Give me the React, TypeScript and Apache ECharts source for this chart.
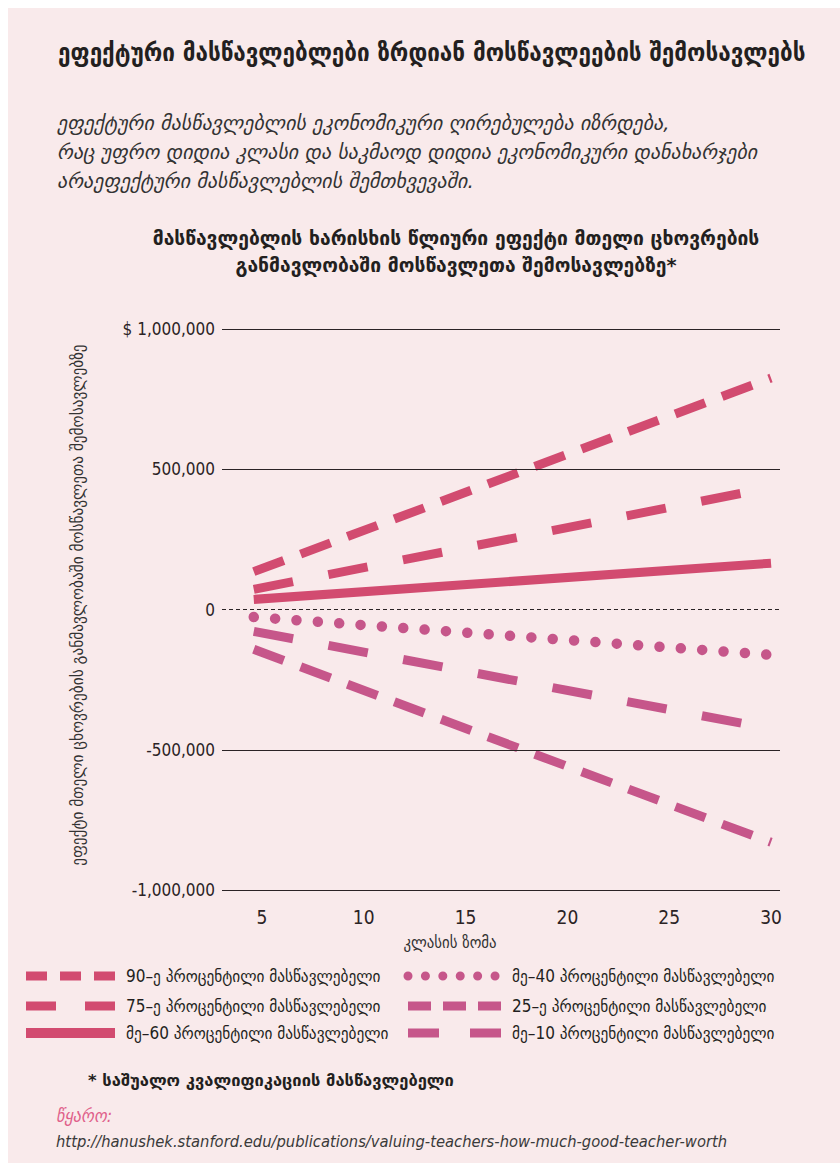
import React, { useEffect, useRef } from "react";
import * as echarts from "echarts";

// ---- data ----
const classSizes = [4.6, 30];
const p90 = [135000, 825000];
const p75 = [72000, 435000];
const p60 = [36000, 165000];
const p40 = [-27000, -162000];
const p25 = [-78000, -425000];
const p10 = [-142000, -830000];
const xTicks = [5, 10, 15, 20, 25, 30];
const yGridSolid = [1000000, 500000, -500000, -1000000];
const yGridDashed = [0];

const seriesNames = [
  "90–ე პროცენტილი მასწავლებელი",
  "75–ე პროცენტილი მასწავლებელი",
  "მე–60 პროცენტილი მასწავლებელი",
  "მე–40 პროცენტილი მასწავლებელი",
  "25–ე პროცენტილი მასწავლებელი",
  "მე–10 პროცენტილი მასწავლებელი",
];

const TITLE = "ეფექტური მასწავლებლები ზრდიან მოსწავლეების შემოსავლებს";
const SUBTITLE = [
  "ეფექტური მასწავლებლის ეკონომიკური ღირებულება იზრდება,",
  "რაც უფრო დიდია კლასი და საკმაოდ დიდია ეკონომიკური დანახარჯები",
  "არაეფექტური მასწავლებლის შემთხვევაში.",
];
const CHART_TITLE = [
  "მასწავლებლის ხარისხის წლიური ეფექტი მთელი ცხოვრების",
  "განმავლობაში მოსწავლეთა შემოსავლებზე*",
];
const Y_NAME = "ეფექტი მთელი ცხოვრების განმავლობაში მოსწავლეთა შემოსავლებზე";
const X_NAME = "კლასის ზომა";
const FOOTNOTE = "* საშუალო კვალიფიკაციის მასწავლებელი";
const SOURCE_LABEL = "წყარო:";
const SOURCE_URL = "http://hanushek.stanford.edu/publications/valuing-teachers-how-much-good-teacher-worth";

const RED = "#d24b70";
const MAG = "#c6568a";
const GEO = "'DejaVu Sans Condensed', 'DejaVu Sans', sans-serif";
const GEOW = "'DejaVu Sans', sans-serif";

const seriesValues = [p90, p75, p60, p40, p25, p10];
const seriesStyles = [
  { color: RED, width: 9, type: [32, 18] as any, cap: "butt" },
  { color: RED, width: 9, type: [40, 36] as any, cap: "butt" },
  { color: RED, width: 9, type: "solid" as any, cap: "butt" },
  { color: MAG, width: 10.5, type: [0.01, 21.4] as any, cap: "round" },
  { color: MAG, width: 9, type: [40, 36] as any, cap: "butt" },
  { color: MAG, width: 9, type: [32, 18] as any, cap: "butt" },
];
const legendDash = [
  { dash: [21, 13], width: 9, cap: "butt", color: RED },
  { dash: [30, 29], width: 9, cap: "butt", color: RED },
  { dash: null, width: 10, cap: "butt", color: RED },
  { dash: [0.01, 17.4], width: 9, cap: "round", color: MAG },
  { dash: [23, 12], width: 9, cap: "butt", color: MAG },
  { dash: [31, 31], width: 9, cap: "butt", color: MAG },
];

function fmtY(v: number) {
  const s = Math.abs(v).toString().replace(/\B(?=(\d{3})+(?!\d))/g, ",");
  const sign = v < 0 ? "-" : "";
  if (v === 1000000) return "$ " + s;
  return sign + s;
}

export default function App() {
  const ref = useRef<HTMLDivElement>(null);
  useEffect(() => {
    document.body.style.margin = "0";
    const chart = echarts.init(ref.current!, null, { renderer: "svg" });

    const graphic: any[] = [];
    graphic.push({
      type: "text",
      x: 50,
      y: 44,
      style: {
        text: TITLE,
        fontFamily: GEO,
        fontWeight: "bold",
        fontSize: 25,
        fill: "#231f20",
        textVerticalAlign: "middle",
      },
    });
    SUBTITLE.forEach((t, i) => {
      graphic.push({
        type: "text",
        x: 49,
        y: 115 + i * 29,
        style: {
          text: t,
          fontFamily: GEOW,
          fontStyle: "italic",
          fontSize: 20,
          fill: "#333",
          textVerticalAlign: "middle",
        },
      });
    });
    CHART_TITLE.forEach((t, i) => {
      graphic.push({
        type: "text",
        x: 448,
        y: 230 + i * 27,
        style: {
          text: t,
          fontFamily: GEOW,
          fontWeight: "bold",
          fontSize: 19.3,
          fill: "#231f20",
          textAlign: "center",
          textVerticalAlign: "middle",
        },
      });
    });
    graphic.push({
      type: "text",
      x: 69,
      y: 597,
      rotation: Math.PI / 2,
      style: {
        text: Y_NAME,
        fontFamily: GEO,
        fontSize: 17,
        fill: "#333",
        textAlign: "center",
        textVerticalAlign: "middle",
      },
    });
    graphic.push({
      type: "text",
      x: 442,
      y: 934,
      style: {
        text: X_NAME,
        fontFamily: GEO,
        fontSize: 16.5,
        fill: "#333",
        textAlign: "center",
        textVerticalAlign: "middle",
      },
    });
    // legend
    const rowsY = [968, 998, 1025];
    seriesNames.forEach((name, i) => {
      const col = i < 3 ? 0 : 1;
      const row = i % 3;
      const y = rowsY[row];
      const x1 = col === 0 ? 18 : 400;
      const x2 = col === 0 ? 107 : 493;
      const ld = legendDash[i];
      graphic.push({
        type: "line",
        shape: { x1, y1: y, x2: ld.cap === "round" ? x2 + 1 : x2, y2: y },
        style: {
          stroke: ld.color,
          lineWidth: ld.width,
          lineDash: ld.dash || undefined,
          lineCap: ld.cap,
        },
      });
      graphic.push({
        type: "text",
        x: col === 0 ? 118 : 504,
        y,
        style: {
          text: name,
          fontFamily: GEO,
          fontSize: 17,
          fill: "#231f20",
          textVerticalAlign: "middle",
        },
      });
    });
    graphic.push({
      type: "text",
      x: 80,
      y: 1072,
      style: {
        text: FOOTNOTE,
        fontFamily: GEOW,
        fontWeight: "bold",
        fontSize: 16.5,
        fill: "#231f20",
        textVerticalAlign: "middle",
      },
    });
    graphic.push({
      type: "text",
      x: 48,
      y: 1107,
      style: {
        text: SOURCE_LABEL,
        fontFamily: GEO,
        fontStyle: "italic",
        fontSize: 18,
        fill: "#e0608a",
        textVerticalAlign: "middle",
      },
    });
    graphic.push({
      type: "text",
      x: 48,
      y: 1133,
      style: {
        text: SOURCE_URL,
        fontFamily: GEO,
        fontStyle: "italic",
        fontSize: 16.4,
        fill: "#3a3a3a",
        textVerticalAlign: "middle",
      },
    });

    const gridSeries: any = {
      type: "line",
      data: [],
      silent: true,
      z: 1,
      markLine: {
        silent: true,
        symbol: "none",
        label: { show: false },
        animation: false,
        data: [
          ...yGridSolid.map((v) => ({
            yAxis: v,
            lineStyle: { color: "#2b2325", width: 1.2, type: "solid" },
          })),
          ...yGridDashed.map((v) => ({
            yAxis: v,
            lineStyle: { color: "#2b2325", width: 1, type: [4, 3] },
          })),
        ],
      },
    };

    const dataSeries = seriesValues.map((vals, i) => ({
      name: seriesNames[i],
      type: "line",
      z: 3,
      symbol: "none",
      showSymbol: false,
      silent: true,
      data: classSizes.map((x, j) => [x, vals[j]]),
      lineStyle: {
        color: seriesStyles[i].color,
        width: seriesStyles[i].width,
        type: seriesStyles[i].type,
        cap: seriesStyles[i].cap,
      },
    }));

    chart.setOption({
      animation: false,
      grid: { left: 214, top: 321, width: 558, height: 561 },
      xAxis: {
        type: "value",
        min: 3.04,
        max: 30.44,
        axisLine: { show: false },
        axisTick: { show: false },
        splitLine: { show: false },
        axisLabel: {
          customValues: xTicks,
          margin: 17,
          fontFamily: GEO,
          fontSize: 19,
          color: "#2b2325",
        },
      },
      yAxis: {
        type: "value",
        min: -1000000,
        max: 1000000,
        interval: 500000,
        axisLine: { show: false },
        axisTick: { show: false },
        splitLine: { show: false },
        axisLabel: {
          formatter: (v: number) => fmtY(v),
          margin: 7,
          fontFamily: GEO,
          fontSize: 17,
          color: "#2b2325",
        },
      },
      series: [gridSeries, ...dataSeries],
      graphic,
    });
    return () => chart.dispose();
  }, []);

  return (
    <div
      ref={ref}
      style={{
        width: 832,
        height: 1155,
        marginLeft: 8,
        marginTop: 8,
        background: "#f9eaeb",
      }}
    />
  );
}
